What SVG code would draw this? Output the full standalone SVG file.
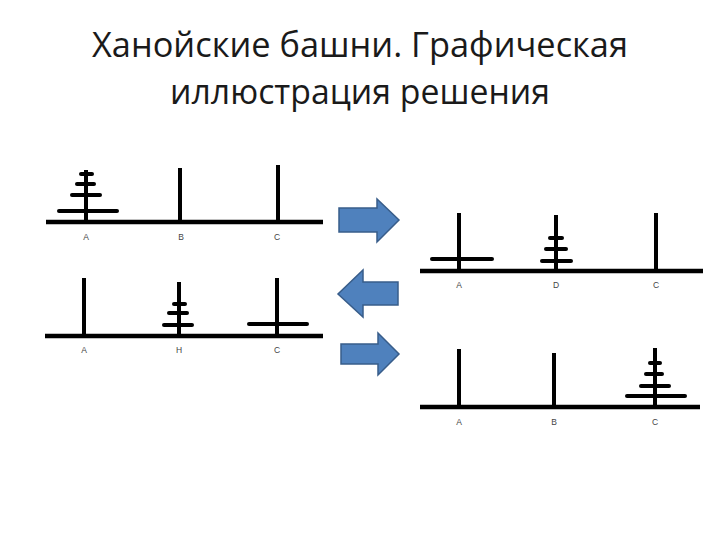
<svg xmlns="http://www.w3.org/2000/svg" width="720" height="540" viewBox="0 0 720 540">
<style>
.t{font-family:"Open Sans","Noto Sans",sans-serif;font-size:35px;fill:#1a1a1a;text-anchor:middle}
.l{font-family:"Liberation Sans",Arial,sans-serif;font-size:8.5px;fill:#444;text-anchor:middle}
.b{stroke:#000;stroke-width:4.5;fill:none}
.p{stroke:#000;stroke-width:4;fill:none}
.d{stroke:#000;stroke-width:4;stroke-linecap:round;fill:none}
.a{fill:#4f81bd;stroke:#385d8a;stroke-width:1.5}
</style>
<rect width="720" height="540" fill="#fff"/>
<g id="title">
<text class="t" x="360" y="57" textLength="536" lengthAdjust="spacingAndGlyphs">Ханойские башни. Графическая</text>
<text class="t" x="360" y="104" textLength="380" lengthAdjust="spacingAndGlyphs">иллюстрация решения</text>
</g>
<g id="panel1">
<line class="b" x1="46" y1="222" x2="323" y2="222"/>
<line class="p" x1="86" y1="170" x2="86" y2="222"/>
<line class="p" x1="180" y1="168" x2="180" y2="222"/>
<line class="p" x1="278" y1="165" x2="278" y2="222"/>
<line class="d" x1="59" y1="211" x2="117" y2="211"/>
<line class="d" x1="72" y1="195" x2="100" y2="195"/>
<line class="d" x1="77" y1="184" x2="94" y2="184"/>
<line class="d" x1="81" y1="174" x2="92" y2="174"/>
<text class="l" x="86" y="240">A</text>
<text class="l" x="181" y="240">B</text>
<text class="l" x="277" y="240">C</text>
</g>
<g id="panel2">
<line class="b" x1="45" y1="336" x2="323" y2="336"/>
<line class="p" x1="84" y1="278" x2="84" y2="336"/>
<line class="p" x1="179" y1="282" x2="179" y2="336"/>
<line class="p" x1="277" y1="278" x2="277" y2="336"/>
<line class="d" x1="249" y1="324" x2="307" y2="324"/>
<line class="d" x1="164" y1="325" x2="192" y2="325"/>
<line class="d" x1="169" y1="313" x2="187" y2="313"/>
<line class="d" x1="174" y1="304" x2="185" y2="304"/>
<text class="l" x="84" y="353">A</text>
<text class="l" x="179" y="353">H</text>
<text class="l" x="277" y="353">C</text>
</g>
<g id="panel3">
<line class="b" x1="420" y1="271" x2="703" y2="271"/>
<line class="p" x1="459" y1="213" x2="459" y2="271"/>
<line class="p" x1="556" y1="215" x2="556" y2="271"/>
<line class="p" x1="656" y1="213" x2="656" y2="271"/>
<line class="d" x1="432" y1="259" x2="492" y2="259"/>
<line class="d" x1="542" y1="261" x2="571" y2="261"/>
<line class="d" x1="546" y1="249" x2="566" y2="249"/>
<line class="d" x1="550" y1="238" x2="562" y2="238"/>
<text class="l" x="459" y="288">A</text>
<text class="l" x="556" y="288">D</text>
<text class="l" x="656" y="288">C</text>
</g>
<g id="panel4">
<line class="b" x1="420" y1="407" x2="700" y2="407"/>
<line class="p" x1="459" y1="349" x2="459" y2="407"/>
<line class="p" x1="554" y1="353" x2="554" y2="407"/>
<line class="p" x1="655" y1="348" x2="655" y2="407"/>
<line class="d" x1="627" y1="396" x2="685" y2="396"/>
<line class="d" x1="641" y1="386" x2="669" y2="386"/>
<line class="d" x1="646" y1="374" x2="662" y2="374"/>
<line class="d" x1="650" y1="363" x2="660" y2="363"/>
<text class="l" x="459" y="425">A</text>
<text class="l" x="554" y="425">B</text>
<text class="l" x="655" y="425">C</text>
</g>
<g id="connectors">
<path class="a" d="M339,208 H377 V199 L399,220 L377,242 V232 H339 Z"/>
<path class="a" d="M398,282 H363 V270 L338,294 L363,317 V305 H398 Z"/>
<path class="a" d="M341,344 H378 V333 L399,354 L378,375 V364 H341 Z"/>
</g>
</svg>
